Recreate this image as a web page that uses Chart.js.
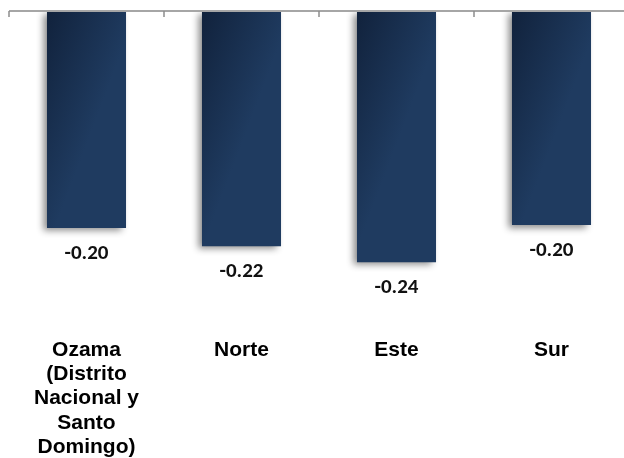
<!DOCTYPE html>
<html>
<head>
<meta charset="utf-8">
<script src="https://cdn.jsdelivr.net/npm/chart.js@4.4.1/dist/chart.umd.min.js"></script>
<style>
    html, body { margin: 0; padding: 0; background: #fff; overflow: hidden; }
    #wrap { width: 629px; height: 467px; }
</style>
</head>
<body>
<div id="wrap"><canvas id="chartRegiones"></canvas></div>
<script>
/* ========== DADOS ========== */
const regiones = [
    ['Ozama', '(Distrito', 'Nacional y', 'Santo', 'Domingo)'],
    'Norte',
    'Este',
    'Sur'
];
const valores = [-0.204, -0.221, -0.236, -0.201];
const yMin = -0.3;
const yMax = 0;

/* ========== PLUGIN: eixo no zero, marcas e rótulos ========== */
const ejeYEtiquetas = {
    id: 'ejeYEtiquetas',
    beforeDatasetsDraw(chart) {
        const c = chart.ctx;
        c.save();
        c.shadowColor = 'rgba(0,0,0,0.45)';
        c.shadowBlur = 7;
        c.shadowOffsetX = -4;
        c.shadowOffsetY = 3;
    },
    afterDatasetsDraw(chart) {
        const c = chart.ctx;
        c.restore();

        const x = chart.scales.x;
        const y = chart.scales.y;
        const y0 = y.getPixelForValue(0);

        // linha do eixo
        c.save();
        c.strokeStyle = '#a6a6a6';
        c.lineWidth = 2;
        c.beginPath();
        c.moveTo(chart.chartArea.left, y0);
        c.lineTo(chart.chartArea.right, y0);
        c.stroke();

        // marcas entre categorias
        c.strokeStyle = '#8c8c8c';
        c.lineWidth = 1.5;
        for (let i = 0; i <= regiones.length; i++) {
            const px = x.getPixelForValue(i - 0.5);
            c.beginPath();
            c.moveTo(px, y0);
            c.lineTo(px, y0 + 6);
            c.stroke();
        }

        // rótulos dos valores
        c.fillStyle = '#111';
        c.font = "bold 21px Carlito, Lato, sans-serif";
        c.textAlign = 'center';
        c.textBaseline = 'middle';
        chart.getDatasetMeta(0).data.forEach((bar, i) => {
            c.fillText(valores[i].toFixed(2), bar.x, bar.y + 26);
        });
        c.restore();
    }
};

/* ========== GRÁFICO ========== */
const ctx = document.getElementById('chartRegiones').getContext('2d');

function barColor(context) {
    const chart = context.chart;
    if (!chart.chartArea) return '#1a2f50';
    const xs = chart.scales.x;
    const cx = xs.getPixelForValue(context.dataIndex);
    const half = xs.width / regiones.length * 0.51 / 2;
    const g = chart.ctx.createLinearGradient(cx - half, chart.chartArea.top, cx + half, chart.chartArea.top + 30);
    g.addColorStop(0, '#11223c');
    g.addColorStop(1, '#1f3b60');
    return g;
}

new Chart(ctx, {
    type: 'bar',
    data: {
        labels: regiones,
        datasets: [{
            data: valores,
            backgroundColor: barColor,
            borderWidth: 0,
            barPercentage: 0.51,
            categoryPercentage: 1
        }]
    },
    options: {
        responsive: true,
        maintainAspectRatio: false,
        animation: false,
        layout: {
            padding: { top: 11, left: 9, right: 0, bottom: 0 }
        },
        plugins: {
            legend: { display: false },
            tooltip: { enabled: false }
        },
        scales: {
            x: {
                position: 'bottom',
                grid: { display: false, drawTicks: false },
                border: { display: false },
                ticks: {
                    color: '#000',
                    padding: 8,
                    maxRotation: 0,
                    autoSkip: false,
                    font: { family: "Arial, 'Liberation Sans', sans-serif", size: 21, weight: 'bold', lineHeight: 1.15 }
                }
            },
            y: {
                display: false,
                min: yMin,
                max: yMax
            }
        }
    },
    plugins: [ejeYEtiquetas]
});
</script>
</body>
</html>
